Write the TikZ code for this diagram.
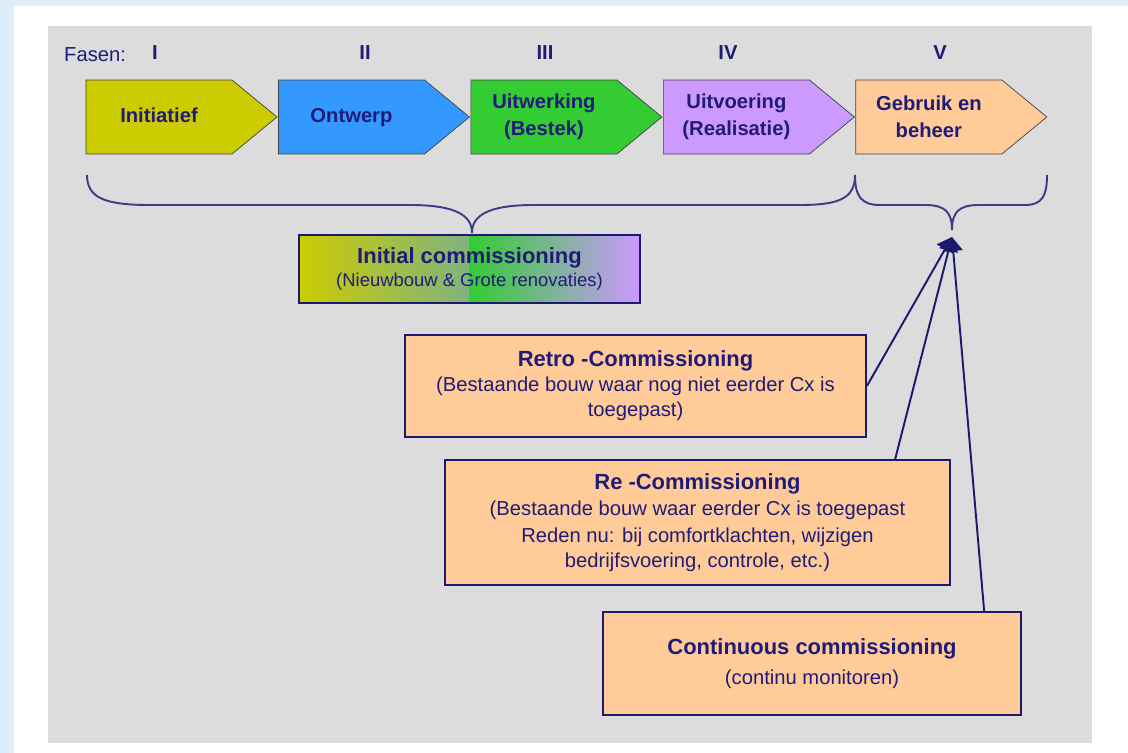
\documentclass[tikz,border=0pt]{standalone}
\usepackage{fontspec}
\setmainfont{Liberation Sans}
\usetikzlibrary{shapes.symbols, arrows.meta, positioning, calc}
\definecolor{navy}{HTML}{1C1A6E}
\definecolor{txtblue}{HTML}{211B78}
\definecolor{phyellow}{HTML}{CCCC00}
\definecolor{phblue}{HTML}{3399FF}
\definecolor{phgreen}{HTML}{33CC33}
\definecolor{phpurple}{HTML}{CC99FF}
\definecolor{phpeach}{HTML}{FFCC99}
\definecolor{panelgrey}{HTML}{DCDCDC}
\definecolor{pageblue}{HTML}{DDEDFA}
\tikzstyle{phase} = [signal, 
signal to=east, 
signal pointer angle=79, 
minimum width=3.82cm, 
minimum height=1.48cm, 
inner sep=0pt,
text centered, 
align=center,
draw=black!75, 
text=txtblue,
font=\bfseries\fontsize{11.5}{15.3}\selectfont]
\tikzstyle{numeral} = [text=txtblue, 
font=\bfseries\fontsize{11.5}{13}\selectfont]
\tikzstyle{cxbox} = [rectangle, 
draw=navy, 
line width=1.1pt, 
fill=phpeach, 
text=txtblue, 
align=center, 
font=\fontsize{11.5}{14.2}\selectfont]
\tikzstyle{initbox} = [rectangle, 
draw=navy, 
line width=1.1pt, 
minimum width=6.82cm, 
minimum height=1.36cm,
text=txtblue, 
align=center,
path picture={
\shade[left color=phyellow, right color=phblue] (path picture bounding box.south west) rectangle (path picture bounding box.north);
\shade[left color=phgreen, right color=phpurple] (path picture bounding box.south) rectangle (path picture bounding box.north east);}]
\tikzstyle{brace} = [navy!85, line width=1.1pt]
\tikzstyle{arrow} = [navy, line width=1.1pt, -{Triangle[length=0.28cm, width=0.38cm]}]
\newcommand{\cxtitle}[1]{{\bfseries\fontsize{12.5}{14}\selectfont #1}}

\begin{document}
\begin{tikzpicture}[x=0.02cm, y=-0.02cm, node distance=3.85cm]
% page and panel
\fill[pageblue] (0,0) rectangle (1128,753);
\fill[white] (14,6) rectangle (1128,753);
\fill[panelgrey] (48,26) rectangle (1092,743);
\useasboundingbox (0,0) rectangle (1128,753);

% phases
\node (fasen) [text=txtblue, font=\fontsize{11.5}{13}\selectfont, anchor=west] at (58,55) {Fasen:};
\node (initiatief) [phase, fill=phyellow] at (159,117) {\strut Initiatief};
\node (ontwerp) [phase, fill=phblue, right of=initiatief] {\strut Ontwerp};
\node (uitwerking) [phase, fill=phgreen, right of=ontwerp] {Uitwerking\\(Bestek)};
\node (uitvoering) [phase, fill=phpurple, right of=uitwerking] {Uitvoering\\(Realisatie)};
\node (gebruik) [phase, fill=phpeach, right of=uitvoering] {Gebruik en\\beheer};

\node (num1) [numeral] at (155,53) {I};
\node (num2) [numeral] at (365,53) {II};
\node (num3) [numeral] at (545,53) {III};
\node (num4) [numeral] at (728,53) {IV};
\node (num5) [numeral] at (940,53) {V};

% braces
\coordinate (bigtip) at (472,233);
\coordinate (smalltip) at (952,230);
\draw[brace] (87,175) .. controls (87,198) and (105,205) .. (150,205) -- (410,205) .. controls (455,205) and (472,215) .. (bigtip) .. controls (472,215) and (489,205) .. (534,205) -- (800,205) .. controls (840,205) and (855,198) .. (855,175);
\draw[brace] (855,175) .. controls (855,196) and (861,205) .. (880,205) -- (925,205) .. controls (945,205) and (952,212) .. (smalltip) .. controls (952,212) and (959,205) .. (979,205) -- (1025,205) .. controls (1042,205) and (1047,196) .. (1047,175);

% commissioning
\node (initial) [initbox] at (469.5,269) {{\bfseries\fontsize{12.5}{15}\selectfont Initial commissioning}\\[1pt]{\fontsize{10.5}{12}\selectfont (Nieuwbouw \& Grote renovaties)}};
\node (retro) [cxbox, minimum width=9.22cm, minimum height=2.04cm] at (635.5,386) {\cxtitle{Retro -Commissioning}\\(Bestaande bouw waar nog niet eerder Cx is\\toegepast)};
\node (re) [cxbox, minimum width=10.1cm, minimum height=2.5cm] at (697.5,522.5) {\cxtitle{Re -Commissioning}\\[1pt](Bestaande bouw waar eerder Cx is toegepast\\[1pt]Reden nu: bij comfortklachten, wijzigen\\bedrijfsvoering, controle, etc.)};
\node (cont) [cxbox, minimum width=8.36cm, minimum height=2.06cm] at (812,663.5) {\cxtitle{Continuous commissioning}\\[3pt](continu monitoren)};

\coordinate (cxtip) at (952,237);
\draw [arrow] (retro.east) -- (cxtip);
\draw [arrow] ($(re.north west)!0.89!(re.north east)$) -- (cxtip);
\draw [arrow] ($(cont.north west)!0.91!(cont.north east)$) -- (cxtip);

\end{tikzpicture}
\end{document}
